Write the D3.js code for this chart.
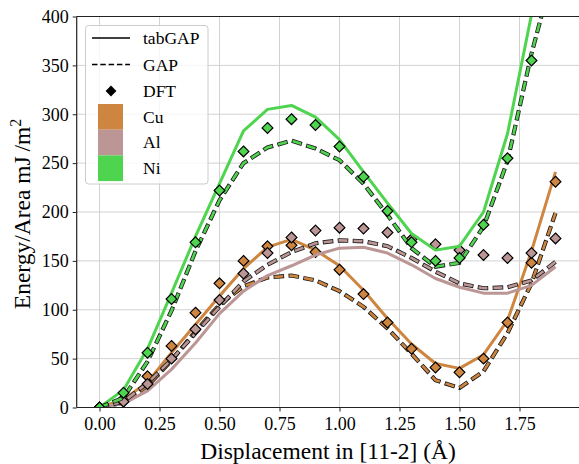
<!DOCTYPE html>
<html>
<head>
<meta charset="utf-8">
<script src="https://cdn.jsdelivr.net/npm/d3@7"></script>
<style>
  body { margin: 0; background: #fff; }
  text { font-family: "Liberation Serif", "Times New Roman", Times, serif; fill: #000; }
</style>
</head>
<body>
<svg id="chart" width="579" height="464"></svg>
<script>
// Displacement along [11-2] in Å
const displacement = [0, 0.1, 0.2, 0.3, 0.4, 0.5, 0.6, 0.7, 0.8, 0.9, 1.0, 1.1, 1.2, 1.3, 1.4, 1.5, 1.6, 1.7, 1.8, 1.9];

// Generalized stacking fault energies, mJ/m^2
const cuTabGAP = [0, 8, 26, 56, 85, 114, 142, 164, 172, 161, 145, 120, 91, 65, 45, 40, 54, 89, 160, 241];
const cuGAP    = [0, 5, 22, 48, 78, 105, 124, 133, 135, 130, 119, 103, 81, 55, 28, 20, 37, 76, 127, 199];
const cuDFT    = [0, 9, 32, 63, 97, 127, 150, 165, 166, 159, 141, 116, 87, 60, 41, 36, 50, 87, 148, 231];

const alTabGAP = [0, 4, 17, 39, 66, 96, 119, 135, 145, 156, 163, 164, 158, 146, 132, 123, 117, 117, 125, 144];
const alGAP    = [0, 6, 25, 49, 76, 103, 129, 146, 159, 168, 171, 170, 165, 153, 139, 127, 122, 123, 130, 149];
const alDFT    = [0, 6, 24, 50, 80, 110, 137, 158, 174, 181, 184, 183, 179, 172, 167, 161, 156, 153, 158, 173];

const niTabGAP = [0, 18, 60, 117, 175, 229, 283, 305, 309, 297, 274, 241, 209, 178, 161, 165, 200, 280, 402, 520];
const niGAP    = [0, 10, 47, 99, 160, 212, 250, 266, 273, 265, 253, 229, 197, 163, 144, 148, 185, 252, 362, 455];
const niDFT    = [0, 15, 56, 111, 169, 222, 262, 286, 295, 289, 267, 236, 201, 169, 150, 153, 187, 255, 355, null];

const xTicks = [0, 0.25, 0.5, 0.75, 1.0, 1.25, 1.5, 1.75];
const yTicks = [0, 50, 100, 150, 200, 250, 300, 350, 400];

const elements = ["Cu", "Al", "Ni"];
const colors = { Cu: "#cd853f", Al: "#bc9595", Ni: "#4fd44f" };
const series = {
  Cu: { tab: cuTabGAP, gap: cuGAP, dft: cuDFT },
  Al: { tab: alTabGAP, gap: alGAP, dft: alDFT },
  Ni: { tab: niTabGAP, gap: niGAP, dft: niDFT }
};

const svg = d3.select("#chart");
const plotL = 76.7, plotT = 16.5, plotB = 407.5, plotR = 581;

const x = d3.scaleLinear().domain([-0.095, 1.9625]).range([plotL, plotL + 2.0575 * 240]);
const y = d3.scaleLinear().domain([0, 400]).range([plotB, plotT]);

svg.append("defs").append("clipPath").attr("id", "plotClip")
  .append("rect").attr("x", plotL).attr("y", plotT).attr("width", plotR - plotL).attr("height", plotB - plotT);

// grid
const grid = svg.append("g");
grid.selectAll("line.gx").data(xTicks).join("line")
  .attr("x1", d => x(d)).attr("x2", d => x(d)).attr("y1", plotT).attr("y2", plotB)
  .attr("stroke", "#d2d2d2").attr("stroke-width", 1);
grid.selectAll("line.gy").data(yTicks).join("line")
  .attr("x1", plotL).attr("x2", plotR).attr("y1", d => y(d)).attr("y2", d => y(d))
  .attr("stroke", "#d2d2d2").attr("stroke-width", 1);

// data
const plot = svg.append("g").attr("clip-path", "url(#plotClip)");
const line = vals => d3.line()
  .defined(d => d[1] !== null)
  .x(d => x(d[0])).y(d => y(d[1]))(displacement.map((v, i) => [v, vals[i]]));

const diamond = r => `M0,${-r}L${r},0L0,${r}L${-r},0Z`;

elements.forEach(el => {
  const s = series[el], c = colors[el];
  // tabGAP: solid
  plot.append("path").attr("d", line(s.tab))
    .attr("fill", "none").attr("stroke", c).attr("stroke-width", 3)
    .attr("stroke-linejoin", "round");
  // GAP: dashed with dark edge
  plot.append("path").attr("d", line(s.gap))
    .attr("fill", "none").attr("stroke", "#1a1a1a").attr("stroke-width", 4.2)
    .attr("stroke-dasharray", "10.6,4.4").attr("stroke-dashoffset", 0.8);
  plot.append("path").attr("d", line(s.gap))
    .attr("fill", "none").attr("stroke", c).attr("stroke-width", 2.6)
    .attr("stroke-dasharray", "9,6");
  // DFT: diamonds
  plot.append("g").selectAll("path")
    .data(displacement.map((v, i) => [v, s.dft[i]]).filter(d => d[1] !== null))
    .join("path")
    .attr("transform", d => `translate(${x(d[0])},${y(d[1])})`)
    .attr("d", diamond(5.4))
    .attr("fill", c).attr("stroke", "#000").attr("stroke-width", 1.2);
});

// frame
svg.append("line").attr("x1", plotL).attr("x2", plotL).attr("y1", plotT).attr("y2", plotB)
  .attr("stroke", "#222").attr("stroke-width", 1.2);
svg.append("line").attr("x1", plotL).attr("x2", plotR).attr("y1", plotT).attr("y2", plotT)
  .attr("stroke", "#222").attr("stroke-width", 1.2);
svg.append("line").attr("x1", plotL).attr("x2", plotR).attr("y1", plotB).attr("y2", plotB)
  .attr("stroke", "#222").attr("stroke-width", 1.2);

// axes
const xAxis = svg.append("g").attr("transform", `translate(0,${plotB})`)
  .call(d3.axisBottom(x).tickValues(xTicks).tickFormat(d3.format(".2f")).tickSize(4).tickPadding(6));
const yAxis = svg.append("g").attr("transform", `translate(${plotL},0)`)
  .call(d3.axisLeft(y).tickValues(yTicks).tickSize(4).tickPadding(4));
[xAxis, yAxis].forEach(a => {
  a.select(".domain").remove();
  a.selectAll(".tick line").attr("stroke", "#222").attr("stroke-width", 1);
  a.selectAll(".tick text").attr("font-size", 18).attr("fill", "#000")
    .style("font-family", "'Liberation Serif', serif");
});

// axis titles
svg.append("text").attr("x", 328).attr("y", 459).attr("text-anchor", "middle")
  .attr("font-size", 23.5).text("Displacement in [11-2] (Å)");
const yl = svg.append("text").attr("transform", "translate(30,214) rotate(-90)")
  .attr("text-anchor", "middle").attr("font-size", 23.5);
yl.append("tspan").text("Energy/Area mJ\u2009/m");
yl.append("tspan").attr("font-size", 16).attr("dy", -9).text("2");

// legend
const lg = svg.append("g");
lg.append("rect").attr("x", 85.5).attr("y", 25.5).attr("width", 122.5).attr("height", 158.5)
  .attr("rx", 3).attr("fill", "#fff").attr("fill-opacity", 0.8)
  .attr("stroke", "#cccccc").attr("stroke-width", 1);
const rowY = [38, 64.5, 91, 116.5, 142, 168];
lg.append("line").attr("x1", 92).attr("x2", 130).attr("y1", rowY[0]).attr("y2", rowY[0])
  .attr("stroke", "#000").attr("stroke-width", 1.6);
lg.append("line").attr("x1", 92).attr("x2", 130).attr("y1", rowY[1]).attr("y2", rowY[1])
  .attr("stroke", "#000").attr("stroke-width", 1.6).attr("stroke-dasharray", "5.5,2.8");
lg.append("path").attr("transform", `translate(111,${rowY[2]})`).attr("d", diamond(5.4)).attr("fill", "#000");
elements.forEach((el, i) => {
  lg.append("rect").attr("x", 98).attr("y", 104 + i * 25.7).attr("width", 25).attr("height", 25.7)
    .attr("fill", colors[el]);
});
const labels = ["tabGAP", "GAP", "DFT", "Cu", "Al", "Ni"];
lg.selectAll("text.lab").data(labels).join("text")
  .attr("x", 143).attr("y", (d, i) => rowY[i] + 6)
  .attr("font-size", 17.5).text(d => d);
</script>
</body>
</html>
